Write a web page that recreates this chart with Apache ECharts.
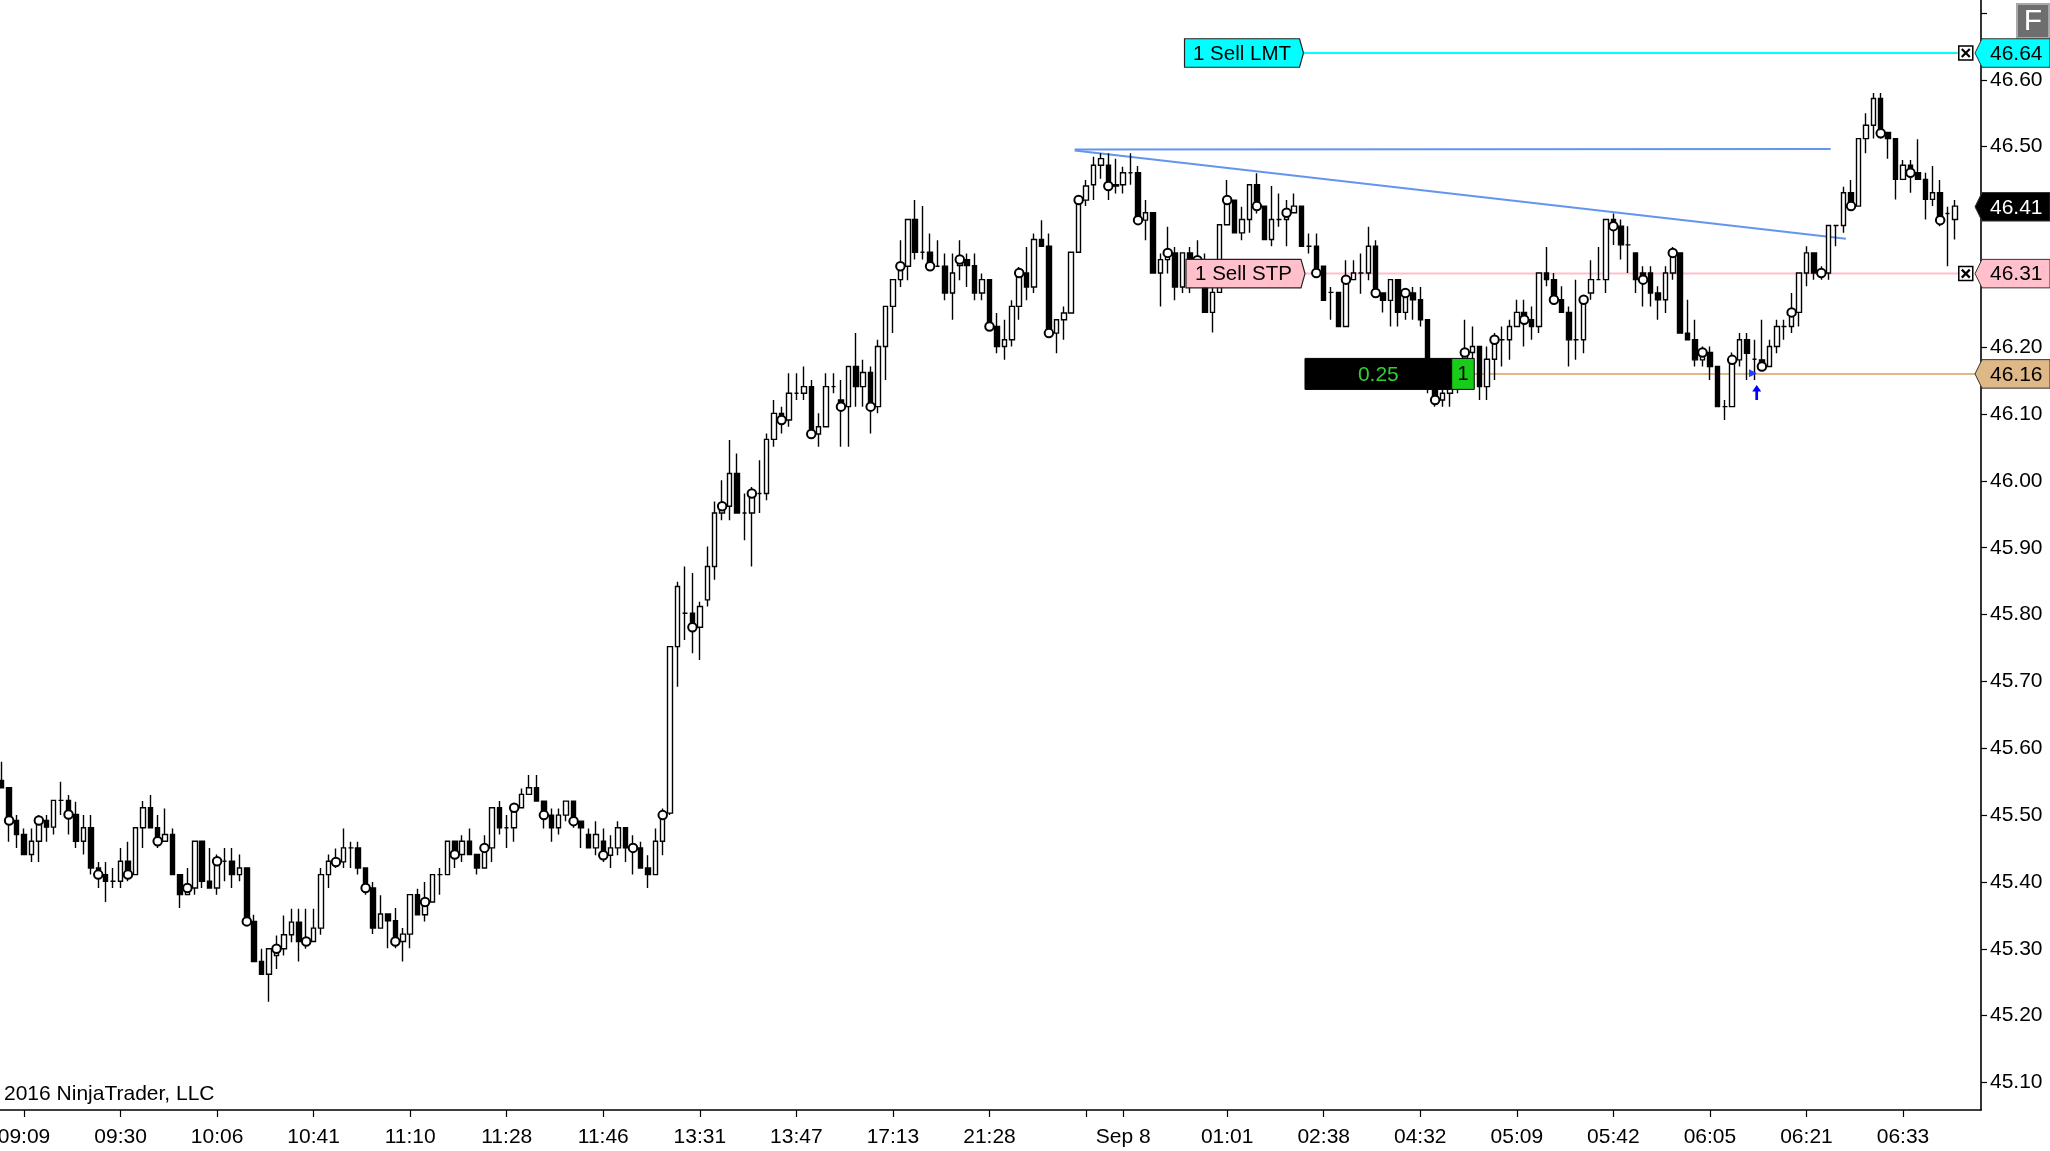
<!DOCTYPE html>
<html><head><meta charset="utf-8">
<script src="https://cdn.jsdelivr.net/npm/echarts@6/dist/echarts.min.js"></script>
<style>html,body{margin:0;padding:0;background:#fff}#c{width:2050px;height:1151px}</style>
</head><body><div id="c"></div>
<script>
// ---------------- DATA ----------------
const openV = [
45.552,45.541,45.492,45.471,45.441,45.461,45.492,45.482,45.522,45.522,
45.501,45.461,45.481,45.421,45.411,45.401,45.401,45.431,45.411,45.481,
45.511,45.481,45.461,45.471,45.411,45.381,45.391,45.461,45.401,45.391,
45.431,45.431,45.411,45.421,45.341,45.281,45.262,45.290,45.300,45.321,
45.340,45.311,45.311,45.331,45.411,45.430,45.430,45.451,45.451,45.421,
45.391,45.331,45.352,45.342,45.311,45.322,45.381,45.351,45.370,45.411,
45.411,45.461,45.441,45.461,45.441,45.421,45.451,45.511,45.481,45.481,
45.511,45.531,45.541,45.521,45.500,45.481,45.500,45.521,45.491,45.471,
45.451,45.461,45.440,45.451,45.481,45.456,45.451,45.421,45.411,45.461,
45.503,45.752,45.802,45.802,45.781,45.822,45.872,45.952,45.962,46.011,
45.952,45.952,45.981,45.981,46.062,46.101,46.091,46.131,46.131,46.141,
46.070,46.081,46.141,46.121,46.111,46.171,46.141,46.162,46.111,46.201,
46.261,46.301,46.321,46.391,46.342,46.342,46.321,46.321,46.281,46.322,
46.331,46.322,46.281,46.301,46.231,46.201,46.211,46.261,46.311,46.290,
46.361,46.351,46.221,46.241,46.251,46.342,46.420,46.443,46.472,46.472,
46.441,46.443,46.461,46.461,46.390,46.401,46.311,46.331,46.341,46.290,
46.341,46.320,46.300,46.252,46.282,46.383,46.420,46.371,46.391,46.443,
46.411,46.361,46.391,46.391,46.401,46.411,46.351,46.351,46.321,46.282,
46.282,46.231,46.301,46.311,46.311,46.351,46.281,46.270,46.301,46.252,
46.281,46.271,46.241,46.141,46.121,46.131,46.141,46.151,46.192,46.201,
46.141,46.182,46.211,46.211,46.231,46.252,46.241,46.231,46.311,46.301,
46.271,46.252,46.211,46.211,46.281,46.301,46.301,46.391,46.381,46.353,
46.341,46.311,46.311,46.281,46.271,46.311,46.341,46.221,46.211,46.181,
46.192,46.171,46.111,46.111,46.181,46.211,46.182,46.181,46.171,46.201,
46.231,46.231,46.252,46.311,46.341,46.311,46.311,46.382,46.382,46.431,
46.411,46.512,46.532,46.572,46.521,46.512,46.451,46.472,46.461,46.451,
46.421,46.431,46.400,46.391];
const closeV = [
45.541,45.492,45.471,45.441,45.461,45.492,45.482,45.522,45.522,45.501,
45.461,45.481,45.421,45.411,45.401,45.401,45.431,45.411,45.481,45.511,
45.481,45.461,45.471,45.411,45.381,45.391,45.461,45.401,45.391,45.431,
45.431,45.411,45.421,45.341,45.281,45.262,45.300,45.300,45.321,45.340,
45.311,45.311,45.331,45.411,45.431,45.430,45.451,45.451,45.421,45.391,
45.331,45.352,45.342,45.311,45.322,45.381,45.351,45.370,45.411,45.411,
45.461,45.441,45.461,45.441,45.421,45.451,45.511,45.481,45.481,45.511,
45.531,45.541,45.521,45.500,45.481,45.500,45.521,45.491,45.481,45.451,
45.471,45.440,45.451,45.481,45.451,45.451,45.421,45.411,45.461,45.500,
45.752,45.842,45.802,45.781,45.812,45.872,45.952,45.962,46.011,45.952,
45.952,45.981,45.981,46.062,46.101,46.091,46.131,46.131,46.141,46.070,
46.081,46.141,46.141,46.111,46.171,46.141,46.162,46.111,46.201,46.261,
46.301,46.321,46.391,46.342,46.342,46.321,46.321,46.281,46.311,46.331,
46.322,46.281,46.301,46.231,46.201,46.211,46.261,46.311,46.290,46.361,
46.351,46.221,46.241,46.251,46.342,46.420,46.441,46.472,46.482,46.441,
46.443,46.461,46.461,46.390,46.401,46.311,46.331,46.341,46.290,46.341,
46.320,46.330,46.252,46.282,46.383,46.420,46.371,46.391,46.443,46.411,
46.361,46.391,46.391,46.401,46.411,46.351,46.351,46.311,46.270,46.282,
46.231,46.301,46.311,46.311,46.351,46.281,46.270,46.301,46.252,46.281,
46.271,46.241,46.141,46.121,46.131,46.141,46.151,46.192,46.201,46.141,
46.182,46.211,46.211,46.231,46.252,46.241,46.231,46.311,46.301,46.271,
46.252,46.211,46.211,46.271,46.301,46.301,46.391,46.381,46.353,46.353,
46.301,46.301,46.281,46.271,46.311,46.341,46.221,46.211,46.181,46.192,
46.171,46.111,46.111,46.181,46.211,46.191,46.182,46.171,46.201,46.231,
46.231,46.252,46.311,46.341,46.311,46.311,46.382,46.382,46.431,46.411,
46.512,46.532,46.572,46.520,46.512,46.451,46.472,46.461,46.451,46.421,
46.431,46.390,46.400,46.411];
const lowV = [
45.541,45.460,45.451,45.441,45.430,45.430,45.460,45.471,45.500,45.471,
45.451,45.441,45.411,45.391,45.370,45.391,45.391,45.401,45.411,45.451,
45.481,45.451,45.461,45.411,45.361,45.381,45.381,45.391,45.391,45.381,
45.401,45.391,45.401,45.341,45.281,45.262,45.221,45.270,45.290,45.310,
45.281,45.300,45.311,45.321,45.391,45.421,45.421,45.421,45.411,45.381,
45.322,45.331,45.301,45.301,45.281,45.301,45.351,45.341,45.370,45.381,
45.411,45.421,45.430,45.441,45.411,45.421,45.430,45.471,45.451,45.460,
45.511,45.531,45.521,45.480,45.460,45.471,45.491,45.481,45.451,45.451,
45.440,45.430,45.421,45.440,45.430,45.411,45.421,45.391,45.411,45.440,
45.500,45.692,45.762,45.742,45.732,45.812,45.852,45.941,45.941,45.952,
45.911,45.872,45.952,45.971,46.051,46.071,46.081,46.121,46.121,46.070,
46.051,46.081,46.131,46.051,46.051,46.111,46.111,46.071,46.101,46.151,
46.221,46.290,46.300,46.331,46.331,46.321,46.321,46.270,46.241,46.300,
46.290,46.270,46.270,46.231,46.191,46.181,46.201,46.241,46.270,46.281,
46.351,46.221,46.191,46.211,46.251,46.342,46.411,46.420,46.452,46.420,
46.430,46.430,46.443,46.383,46.360,46.311,46.261,46.310,46.270,46.281,
46.281,46.300,46.252,46.222,46.282,46.383,46.371,46.360,46.371,46.400,
46.361,46.351,46.380,46.351,46.401,46.351,46.340,46.311,46.270,46.241,
46.231,46.231,46.301,46.280,46.300,46.281,46.252,46.231,46.231,46.241,
46.241,46.231,46.131,46.111,46.111,46.111,46.131,46.141,46.150,46.121,
46.121,46.151,46.171,46.181,46.231,46.201,46.211,46.221,46.291,46.271,
46.252,46.171,46.181,46.191,46.271,46.301,46.281,46.353,46.331,46.311,
46.281,46.261,46.261,46.241,46.251,46.301,46.221,46.211,46.171,46.171,
46.151,46.111,46.091,46.111,46.171,46.151,46.151,46.171,46.171,46.191,
46.211,46.221,46.231,46.291,46.301,46.301,46.301,46.351,46.371,46.411,
46.411,46.490,46.512,46.512,46.482,46.421,46.451,46.431,46.451,46.391,
46.411,46.381,46.321,46.361];
const highV = [
45.580,45.541,45.500,45.480,45.480,45.500,45.500,45.522,45.550,45.530,
45.520,45.500,45.500,45.430,45.430,45.421,45.451,45.460,45.481,45.521,
45.530,45.500,45.510,45.480,45.411,45.421,45.461,45.461,45.451,45.441,
45.451,45.451,45.441,45.421,45.351,45.300,45.300,45.320,45.350,45.360,
45.360,45.360,45.360,45.421,45.441,45.450,45.480,45.460,45.460,45.421,
45.400,45.380,45.352,45.361,45.331,45.381,45.390,45.400,45.411,45.421,
45.461,45.461,45.470,45.480,45.441,45.470,45.511,45.521,45.500,45.511,
45.540,45.560,45.560,45.521,45.510,45.510,45.521,45.521,45.491,45.480,
45.491,45.480,45.470,45.491,45.481,45.470,45.460,45.440,45.480,45.510,
45.752,45.849,45.872,45.862,45.819,45.902,45.969,46.001,46.061,46.041,
45.981,45.991,46.031,46.071,46.121,46.111,46.161,46.161,46.171,46.151,
46.101,46.161,46.161,46.151,46.171,46.221,46.181,46.171,46.211,46.261,
46.301,46.360,46.391,46.420,46.411,46.370,46.360,46.340,46.340,46.360,
46.340,46.340,46.310,46.301,46.251,46.241,46.270,46.320,46.350,46.370,
46.390,46.370,46.241,46.261,46.342,46.420,46.450,46.485,46.490,46.490,
46.482,46.470,46.490,46.471,46.420,46.401,46.340,46.380,46.350,46.341,
46.350,46.360,46.340,46.290,46.383,46.450,46.420,46.410,46.443,46.460,
46.411,46.441,46.430,46.420,46.430,46.411,46.370,46.370,46.321,46.290,
46.282,46.330,46.330,46.340,46.380,46.360,46.281,46.301,46.301,46.285,
46.290,46.290,46.241,46.151,46.141,46.170,46.170,46.241,46.231,46.201,
46.201,46.221,46.231,46.241,46.271,46.271,46.261,46.311,46.350,46.311,
46.291,46.261,46.301,46.271,46.330,46.350,46.391,46.400,46.391,46.381,
46.341,46.321,46.321,46.291,46.321,46.350,46.341,46.271,46.241,46.201,
46.201,46.171,46.121,46.192,46.221,46.221,46.211,46.241,46.211,46.241,
46.241,46.281,46.311,46.351,46.341,46.321,46.382,46.382,46.440,46.450,
46.512,46.550,46.580,46.580,46.521,46.512,46.480,46.480,46.511,46.461,
46.471,46.450,46.410,46.420];

// indicator dots (bar index, value)
const dotIdx = [1,5,9,13,17,21,25,29,33,37,41,45,49,53,57,61,65,69,73,77,81,85,89,93,97,101,105,109,113,117,121,125,129,133,137,141,145,149,153,157,161,165,169,173,177,181,185,189,193,197,201,205,209,213,217,221,225,229,233,237,241,245,249,253,257,261];
const dotVal = [45.492,45.492,45.501,45.411,45.411,45.461,45.391,45.431,45.341,45.300,45.311,45.430,
45.391,45.311,45.370,45.441,45.451,45.511,45.500,45.491,45.440,45.451,45.500,
45.781,45.962,45.981,46.091,46.070,46.111,46.111,
46.321,46.321,46.331,46.231,46.311,46.221,46.420,
46.441,46.390,46.341,46.330,46.420,46.411,46.401,46.311,46.301,46.281,46.281,
46.121,46.192,46.211,46.241,46.271,46.271,46.381,46.301,46.341,46.192,46.181,46.171,
46.252,46.311,46.411,46.520,46.461,46.390];

// x-axis ticks (bar index) and labels
const xTickIdx = [3,16,29,42,55,68,81,94,107,120,133,146,151,165,178,191,204,217,230,243,256];
const xTickLbl = ['09:09','09:30','10:06','10:41','11:10','11:28','11:46','13:31','13:47','17:13','21:28','','Sep 8','01:01','02:38','04:32','05:09','05:42','06:05','06:21','06:33'];

// y-axis ticks / labels
const yTickVals = [45.1,45.2,45.3,45.4,45.5,45.6,45.7,45.8,45.9,46.0,46.1,46.2,46.3,46.4,46.5,46.6,46.7];
const yLblVals  = [45.1,45.2,45.3,45.4,45.5,45.6,45.7,45.8,45.9,46.0,46.1,46.2,46.3,46.4,46.5,46.6];
const yMin = 45.0589, yMax = 46.7193;

// drawn trend lines [barIdx, price]
const hLine   = [[144.47, 46.4955], [246.26, 46.4964]];
const tLine   = [[144.47, 46.4940], [248.32, 46.3621]];

// orders
const lmtPrice = 46.64, stpPrice = 46.31, entryPrice = 46.16, lastPrice = 46.41;
const lmtLine   = [[175.28, lmtPrice], [264.45, lmtPrice]];
const stpLine   = [[175.48, stpPrice], [264.45, stpPrice]];
const entryLine = [[198.27, entryPrice], [266.5, entryPrice]];
const leftTagPos = [[175.28, lmtPrice], [175.48, stpPrice]];
const leftTagTxt = ['1 Sell LMT', '1 Sell STP'];
const rightTagVal = [lmtPrice, lastPrice, stpPrice, entryPrice];
const rightTagTxt = ['46.64', '46.41', '46.31', '46.16'];
const closeBoxPos = [[264.45, lmtPrice], [264.45, stpPrice]];
const posBoxes = [[175.48, 195.23, entryPrice], [195.23, 198.27, entryPrice]];
const posBoxTxt = ['0.25', '1'];
const execArrow = [[236.3, 46.132]];
const execMark  = [[235.8, 46.161]];
const nCats = 267;

// ---------------- STYLE ----------------
const FONT = '"Liberation Sans", Arial, sans-serif';
const ST = {
  leftTagFill: ['#00FFFF', '#FFC0CB'],
  rightTagFill: ['#00FFFF', '#000000', '#FFC0CB', '#DEB887'],
  rightTagText: ['#000', '#fff', '#000', '#000'],
  posBoxFill: ['#000000', '#19CC19'],
  posBoxText: ['#33CC33', '#000'],
  tagH: 28.5
};

const cats = Array.from({length: nCats}, (_, i) => String(i));
const kData = openV.map((o, i) => [o, closeV[i], lowV[i], highV[i]]);
const tickSet = new Set(xTickIdx);
const lblMap = {};
xTickIdx.forEach((j, k) => { if (xTickLbl[k]) lblMap[j] = xTickLbl[k]; });

function leftTag(params, api) {
  const i = params.dataIndex;
  const p = api.coord([api.value(0), api.value(1)]);
  const tip = p[0], cy = p[1], w = 119, h = ST.tagH, d = 4;
  return { type: 'group', children: [
    { type: 'polygon', shape: { points: [[tip - w, cy - h/2], [tip - d, cy - h/2], [tip, cy], [tip - d, cy + h/2], [tip - w, cy + h/2]] },
      style: { fill: ST.leftTagFill[i], stroke: '#222', lineWidth: 1.2 } },
    { type: 'text', x: tip - d - (w - d) / 2, y: cy + 1,
      style: { text: leftTagTxt[i], fill: '#000', fontSize: 20.5, fontFamily: FONT, align: 'center', verticalAlign: 'middle' } }
  ]};
}
function rightTag(params, api) {
  const i = params.dataIndex;
  const cy = api.coord([api.value(0), api.value(1)])[1];
  const x0 = params.coordSys.x + params.coordSys.width;
  const h = ST.tagH;
  return { type: 'group', children: [
    { type: 'polygon', shape: { points: [[x0 - 6, cy], [x0 + 1, cy - h/2], [2050, cy - h/2], [2050, cy + h/2], [x0 + 1, cy + h/2]] },
      style: { fill: ST.rightTagFill[i], stroke: '#333', lineWidth: 1 } },
    { type: 'text', x: x0 + 9, y: cy + 1,
      style: { text: rightTagTxt[i], fill: ST.rightTagText[i], fontSize: 21, fontFamily: FONT, align: 'left', verticalAlign: 'middle' } }
  ]};
}
function closeBox(params, api) {
  const p = api.coord([api.value(0), api.value(1)]);
  const s = 7;
  return { type: 'group', children: [
    { type: 'rect', shape: { x: p[0] - s, y: p[1] - s, width: 2*s, height: 2*s }, style: { fill: '#fff', stroke: '#000', lineWidth: 1.5 } },
    { type: 'line', shape: { x1: p[0] - 4, y1: p[1] - 4, x2: p[0] + 4, y2: p[1] + 4 }, style: { stroke: '#000', lineWidth: 2.2 } },
    { type: 'line', shape: { x1: p[0] + 4, y1: p[1] - 4, x2: p[0] - 4, y2: p[1] + 4 }, style: { stroke: '#000', lineWidth: 2.2 } }
  ]};
}
function posBox(params, api) {
  const i = params.dataIndex;
  const a = api.coord([api.value(0), api.value(2)]);
  const b = api.coord([api.value(1), api.value(2)]);
  const h = 31;
  return { type: 'group', children: [
    { type: 'rect', shape: { x: a[0], y: a[1] - h/2, width: b[0] - a[0], height: h }, style: { fill: ST.posBoxFill[i], stroke: '#000', lineWidth: 1 } },
    { type: 'text', x: (a[0] + b[0]) / 2, y: a[1] + 1,
      style: { text: posBoxTxt[i], fill: ST.posBoxText[i], fontSize: i === 0 ? 21 : 20, fontFamily: FONT, align: 'center', verticalAlign: 'middle' } }
  ]};
}

const lineSeries = (data, color, width, z) => ({
  type: 'line', xAxisIndex: 1, yAxisIndex: 0, data, symbol: 'none', silent: true, z,
  lineStyle: { color, width }, emphasis: { disabled: true }
});

const option = {
  animation: false,
  backgroundColor: '#fff',
  textStyle: { fontFamily: FONT },
  grid: { left: -2, right: 69, top: 0, bottom: 41, containLabel: false, outerBoundsMode: 'none' },
  xAxis: [{
    type: 'category', data: cats, boundaryGap: true,
    axisLine: { show: true, onZero: false, lineStyle: { color: '#000', width: 1.6 } },
    axisTick: { show: true, alignWithLabel: true, length: 7, lineStyle: { color: '#000', width: 1.2 },
      interval: (idx) => tickSet.has(idx) },
    axisLabel: { show: true, color: '#000', fontSize: 21, fontFamily: FONT, margin: 17,
      interval: (idx) => lblMap[idx] !== undefined,
      formatter: (v, idx) => lblMap[idx] || '' },
    splitLine: { show: false }
  }, {
    type: 'value', min: -0.5, max: nCats - 0.5, show: false,
    axisLine: { onZero: false }
  }],
  yAxis: [{
    type: 'value', position: 'right', min: yMin, max: yMax, scale: true,
    axisLine: { show: true, onZero: false, lineStyle: { color: '#000', width: 1.6 } },
    axisTick: { show: true, length: 6, lineStyle: { color: '#000', width: 1.2 }, customValues: yTickVals },
    axisLabel: { show: true, color: '#000', fontSize: 21, fontFamily: FONT, margin: 9,
      customValues: yLblVals, formatter: (v) => Number(v).toFixed(2) },
    splitLine: { show: false }
  }],
  series: [
    lineSeries(hLine, '#6495ED', 2, 1),
    lineSeries(tLine, '#6495ED', 2, 1),
    lineSeries(lmtLine, '#00FFFF', 2, 1),
    lineSeries(stpLine, '#FFC0CB', 2, 1),
    lineSeries(entryLine, '#DEB887', 2, 1),
    {
      type: 'candlestick', xAxisIndex: 0, yAxisIndex: 0, data: kData, barWidth: 5, z: 2,
      itemStyle: { color: '#fff', color0: '#000', borderColor: '#000', borderColor0: '#000', borderColorDoji: '#000', borderWidth: 1.4 },
      emphasis: { disabled: true }, silent: true
    },
    {
      type: 'scatter', xAxisIndex: 0, yAxisIndex: 0, data: dotIdx.map((j, k) => [j, dotVal[k]]),
      symbol: 'circle', symbolSize: 8.5, z: 3, silent: true,
      itemStyle: { color: '#fff', borderColor: '#000', borderWidth: 2, opacity: 1 }
    },
    {
      type: 'custom', xAxisIndex: 1, yAxisIndex: 0, data: posBoxes, renderItem: posBox, z: 5, clip: false, silent: true
    },
    {
      type: 'custom', xAxisIndex: 1, yAxisIndex: 0, data: leftTagPos, renderItem: leftTag, z: 6, clip: false, silent: true
    },
    {
      type: 'custom', xAxisIndex: 1, yAxisIndex: 0, data: closeBoxPos, renderItem: closeBox, z: 6, clip: false, silent: true
    },
    {
      type: 'custom', xAxisIndex: 1, yAxisIndex: 0, data: rightTagVal.map(v => [nCats - 1, v]), renderItem: rightTag, z: 7, clip: false, silent: true
    },
    {
      type: 'scatter', xAxisIndex: 1, yAxisIndex: 0, data: execArrow, z: 6, silent: true,
      symbol: 'path://M4 0 L8 6 L5.2 6 L5.2 14 L2.8 14 L2.8 6 L0 6 Z', symbolSize: [9, 15],
      itemStyle: { color: '#0000FF', opacity: 1 }
    },
    {
      type: 'scatter', xAxisIndex: 1, yAxisIndex: 0, data: execMark, z: 6, silent: true,
      symbol: 'triangle', symbolRotate: -90, symbolSize: [8, 8],
      itemStyle: { color: '#2040FF', opacity: 1 }
    }
  ],
  graphic: [
    { type: 'text', left: 4, top: 1084, silent: true,
      style: { text: '2016 NinjaTrader, LLC', fill: '#000', fontSize: 21, fontFamily: FONT } },
    { type: 'group', left: 2016, top: 3, silent: true, children: [
      { type: 'rect', shape: { x: 0, y: 0, width: 32, height: 34 }, style: { fill: '#6e6e6e', stroke: '#a9a9a9', lineWidth: 2 } },
      { type: 'text', x: 16, y: 18, style: { text: 'F', fill: '#fff', fontSize: 30, fontFamily: FONT, align: 'center', verticalAlign: 'middle' } }
    ]}
  ]
};

const chart = echarts.init(document.getElementById('c'), null, { renderer: 'canvas', width: 2050, height: 1151 });
chart.setOption(option);
</script></body></html>
